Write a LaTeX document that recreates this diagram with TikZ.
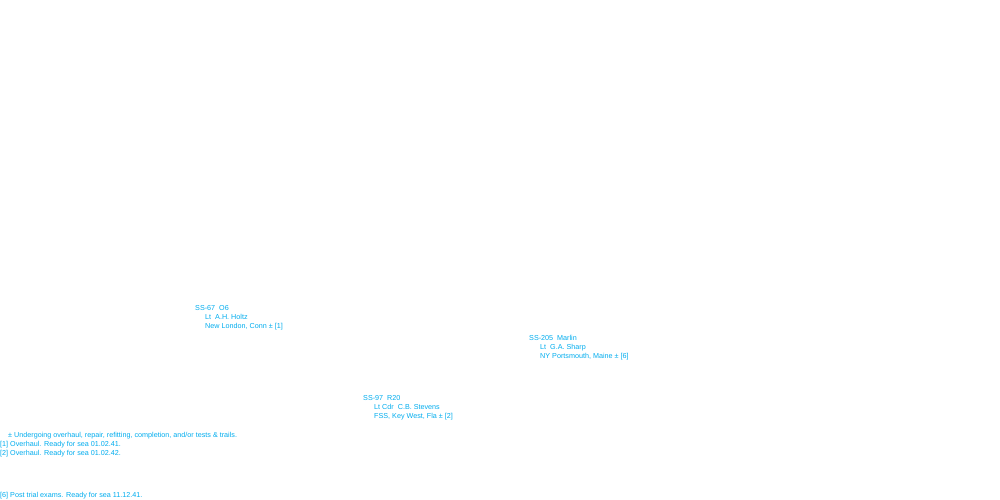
\documentclass[tikz,border=0pt]{standalone}
\usepackage{fontspec}
\setmainfont{Liberation Sans}
\begin{document}
\begin{tikzpicture}[x=1pt,y=-1pt,
  t/.style={anchor=base west,inner sep=0pt,text=cyan,font=\fontsize{7.2}{8}\selectfont}]
\useasboundingbox[fill=white] (0,0) rectangle (1000,500);
\node[t] (a1) at (195,310) {SS-67\ \ O6};
\node[t] (a2) at (205,319) {Lt\ \ A.H. Holtz};
\node[t] (a3) at (205,328) {New London, Conn ± [1]};
\node[t] (b1) at (529,340) {SS-205\ \ Marlin};
\node[t] (b2) at (540,349) {Lt\ \ G.A. Sharp};
\node[t] (b3) at (540,358) {NY Portsmouth, Maine ± [6]};
\node[t] (c1) at (363,400) {SS-97\ \ R20};
\node[t] (c2) at (374,409) {Lt Cdr\ \ C.B. Stevens};
\node[t] (c3) at (374,418) {FSS, Key West, Fla ± [2]};
\node[t] (n0) at (6,437) {\ ± Undergoing overhaul, repair, refitting, completion, and/or tests \& trails.};
\node[t] (n1) at (0,446) {[1] Overhaul. Ready for sea 01.02.41.};
\node[t] (n2) at (0,455) {[2] Overhaul. Ready for sea 01.02.42.};
\node[t] (n6) at (0,497) {[6] Post trial exams. Ready for sea 11.12.41.};
\end{tikzpicture}
\end{document}
